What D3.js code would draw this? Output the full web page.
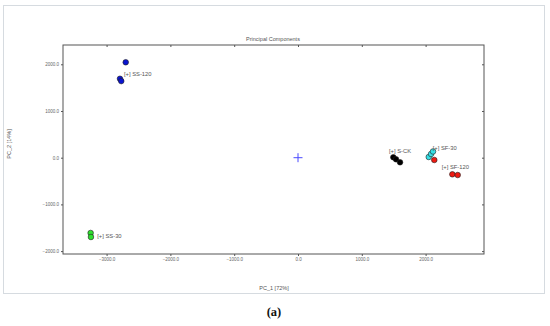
<!DOCTYPE html>
<html>
<head>
<meta charset="utf-8">
<script src="https://cdn.jsdelivr.net/npm/d3@7"></script>
<style>
  html, body { margin: 0; padding: 0; background: #fff; }
  svg { display: block; font-family: "Liberation Sans", Arial, sans-serif; }
  .axis text { fill: #666; font-size: 4.5px; }
  .axis path, .axis line { stroke: #555; }
</style>
</head>
<body>
<svg id="chart" width="550" height="326"></svg>
<script>
// =========================
// DATI
// =========================
const groups = ["SS-120", "SS-30", "S-CK", "SF-30", "SF-120"];
const pointGroup = [0, 0, 0, 1, 1, 2, 2, 2, 3, 3, 3, 4, 4, 4];
const pc1 = [-2700, -2790, -2770, -3250, -3245, 1494, 1536, 1599, 2049, 2085, 2116, 2136, 2419, 2503];
const pc2 = [2043, 1690, 1640, -1612, -1698, 9, -34, -99, 15, 79, 133, -49, -356, -371];
const labelPc1 = [-2727, -3146, 1426, 2111, 2252];
const labelPc2 = [1792, -1677, 154, 218, -199];
const xTicks = [-3000, -2000, -1000, 0, 1000, 2000];
const yTicks = [-2000, -1000, 0, 1000, 2000];

const colors = ["#0a14d0", "#2ee02e", "#000000", "#36dfe6", "#ee1a12"];

// =========================
// SCALE E ASSI
// =========================
const svg = d3.select("#chart");
const x = d3.scaleLinear().domain([-3683, 2915]).range([63, 484]);
const y = d3.scaleLinear().domain([-2062, 2413]).range([254, 45]);
const fmt = d3.format(".1f");

// riquadro esterno
svg.append("rect")
  .attr("x", 3.5).attr("y", 5.5).attr("width", 541).attr("height", 288)
  .attr("fill", "none").attr("stroke", "#d6dbe0").attr("stroke-width", 1);

svg.append("rect")
  .attr("x", 63).attr("y", 45).attr("width", 421).attr("height", 209)
  .attr("fill", "#fff").attr("stroke", "#555").attr("stroke-width", 1);

svg.append("g").attr("class", "axis")
  .attr("transform", "translate(0,254)")
  .call(d3.axisBottom(x).tickValues(xTicks).tickFormat(fmt).tickSize(2).tickPadding(2))
  .call(g => g.select(".domain").remove());

svg.append("g").attr("class", "axis")
  .attr("transform", "translate(63,0)")
  .call(d3.axisLeft(y).tickValues(yTicks).tickFormat(fmt).tickSize(2).tickPadding(2))
  .call(g => g.select(".domain").remove());

svg.append("g").attr("class", "axis")
  .attr("transform", "translate(0,45)")
  .call(d3.axisBottom(x).tickValues(xTicks).tickFormat("").tickSize(2))
  .call(g => g.select(".domain").remove());

svg.append("g").attr("class", "axis")
  .attr("transform", "translate(484,0)")
  .call(d3.axisLeft(y).tickValues(yTicks).tickFormat("").tickSize(2))
  .call(g => g.select(".domain").remove());

// titoli
svg.append("text").attr("x", 273).attr("y", 41)
  .attr("text-anchor", "middle").attr("font-size", 5.5).attr("fill", "#555")
  .text("Principal Components");

svg.append("text").attr("x", 274).attr("y", 289.5)
  .attr("text-anchor", "middle").attr("font-size", 5.5).attr("fill", "#555")
  .text("PC_1 [72%]");

svg.append("text")
  .attr("transform", "translate(10.5,144) rotate(-90)")
  .attr("text-anchor", "middle").attr("font-size", 5.5).attr("fill", "#555")
  .text("PC_2 [14%]");

// =========================
// ORIGINE (+)
// =========================
const cross = svg.append("g").attr("stroke", "#4a4aff").attr("stroke-width", 1);
cross.append("line").attr("x1", x(0) - 4.5).attr("x2", x(0) + 4.5).attr("y1", y(0)).attr("y2", y(0));
cross.append("line").attr("x1", x(0)).attr("x2", x(0)).attr("y1", y(0) - 4.5).attr("y2", y(0) + 4.5);

// =========================
// PUNTI
// =========================
svg.append("g").selectAll("circle")
  .data(pc1)
  .join("circle")
  .attr("cx", (d, i) => x(d))
  .attr("cy", (d, i) => y(pc2[i]))
  .attr("r", 2.8)
  .attr("fill", (d, i) => colors[pointGroup[i]])
  .attr("stroke", "#222")
  .attr("stroke-width", 0.6);

svg.append("g").selectAll("text")
  .data(groups)
  .join("text")
  .attr("x", (d, i) => x(labelPc1[i]))
  .attr("y", (d, i) => y(labelPc2[i]))
  .attr("dy", "0.35em")
  .attr("font-size", 5.8)
  .attr("fill", "#555")
  .text(d => "[+] " + d);

// =========================
// DIDASCALIA
// =========================
svg.append("text").attr("x", 274).attr("y", 316)
  .attr("text-anchor", "middle")
  .attr("font-family", "'Liberation Serif', serif")
  .attr("font-weight", "bold").attr("font-size", 12.5).attr("fill", "#111")
  .text("(a)");
</script>
</body>
</html>
